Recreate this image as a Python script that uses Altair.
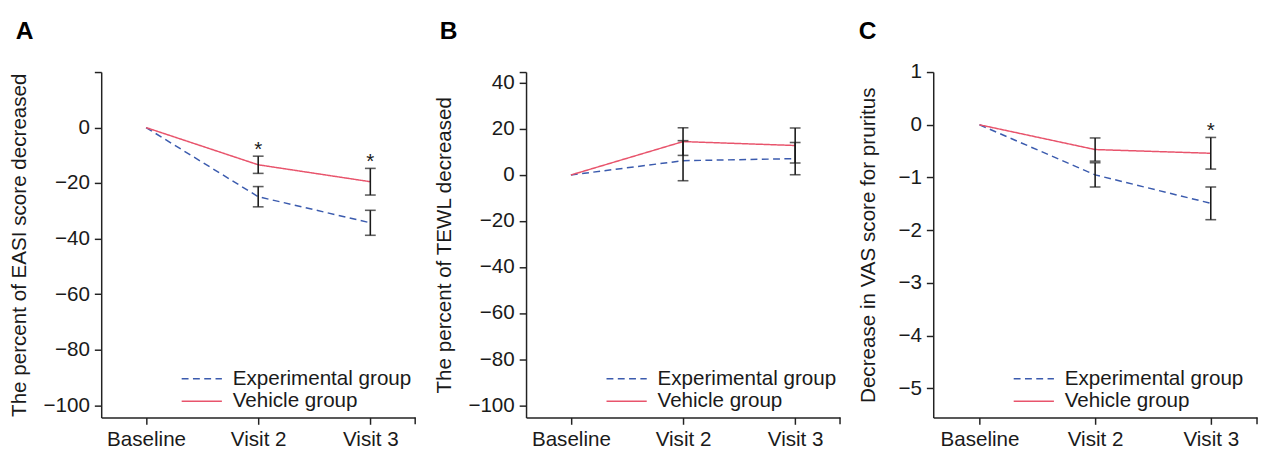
import altair as alt
import pandas as pd

FONT = "Liberation Sans"
BLUE = "#3B5BAE"
RED = "#E8546C"
INK = "#1a1a1a"

visits = ["Baseline", "Visit 2", "Visit 3"]
groups = ["Experimental group", "Vehicle group"]

# Panel A: EASI
easi_exp = [0, -24.9, -34.3]
easi_exp_se = [0, 3.65, 4.5]
easi_veh = [0, -13.4, -19.5]
easi_veh_se = [0, 3.1, 4.8]
easi_star = [False, True, True]

# Panel B: TEWL
tewl_exp = [0, 6.2, 7.1]
tewl_exp_se = [0, 8.7, 7.0]
tewl_veh = [0, 14.5, 12.8]
tewl_veh_se = [0, 6.0, 7.6]
tewl_star = [False, False, False]

# Panel C: VAS
vas_exp = [0, -0.95, -1.49]
vas_exp_se = [0, 0.23, 0.31]
vas_veh = [0, -0.47, -0.54]
vas_veh_se = [0, 0.22, 0.30]
vas_star = [False, False, True]


def panel(exp, exp_se, veh, veh_se, star, domain, ticks, label_max, title,
          letter, width, letter_x, title_pad):
    rows = []
    for g, vals, ses in [(groups[0], exp, exp_se), (groups[1], veh, veh_se)]:
        for v, m, s, st in zip(visits, vals, ses, star):
            rows.append(dict(visit=v, group=g, mean=m, lo=m - s, hi=m + s,
                             star=bool(st) and g == groups[1]))
    df = pd.DataFrame(rows)
    err_df = df[df["visit"] != "Baseline"]
    star_df = df[df["star"]]

    xenc = alt.X("visit:N", sort=visits,
                 scale=alt.Scale(type="point", padding=0.4, domain=visits),
                 axis=alt.Axis(title=None, labelAngle=0, labelPadding=5))
    yscale = alt.Scale(domain=domain, nice=False, zero=False)
    yaxis = alt.Axis(title=title, values=ticks, grid=False, titlePadding=title_pad,
                     labelExpr=f"datum.value > {label_max} ? '' : datum.label")

    legend = alt.Legend(title=None, orient="none", legendX=92, legendY=302,
                        symbolType="M-4,0H4", symbolSize=105,
                        symbolStrokeWidth=1.5, labelFontSize=21,
                        labelFont=FONT, labelColor=INK, labelOffset=21,
                        labelLimit=400, rowPadding=1, padding=0)

    lines = alt.Chart(df).mark_line(strokeWidth=1.5).encode(
        x=xenc,
        y=alt.Y("mean:Q", scale=yscale, axis=yaxis, title=title),
        color=alt.Color("group:N", scale=alt.Scale(domain=groups, range=[BLUE, RED]),
                        legend=legend),
        strokeDash=alt.StrokeDash("group:N",
                                  scale=alt.Scale(domain=groups, range=[[7, 4.5], [1, 0]]),
                                  legend=legend),
    )
    bars = alt.Chart(err_df).mark_rule(color=INK, strokeWidth=1.6).encode(
        x=xenc, y=alt.Y("lo:Q", scale=yscale, title=title), y2="hi:Q")
    cap_lo = alt.Chart(err_df).mark_tick(color=INK, size=11, thickness=1.6).encode(
        x=xenc, y=alt.Y("lo:Q", scale=yscale, title=title))
    cap_hi = alt.Chart(err_df).mark_tick(color=INK, size=11, thickness=1.6).encode(
        x=xenc, y=alt.Y("hi:Q", scale=yscale, title=title))
    layers = [lines, bars, cap_lo, cap_hi]
    if len(star_df):
        stars = alt.Chart(star_df).mark_text(
            text="*", fontSize=21, font=FONT, color=INK,
            baseline="alphabetic", dy=0).encode(
            x=xenc, y=alt.Y("hi:Q", scale=yscale, title=title))
        layers.append(stars)
    lab = alt.Chart(pd.DataFrame({"t": [letter]})).mark_text(
        fontSize=25, fontWeight="bold", font=FONT, color="#000",
        align="left", baseline="alphabetic").encode(
        text="t:N", x=alt.value(letter_x), y=alt.value(-34))
    endtick = alt.Chart(pd.DataFrame({"t": [0]})).mark_rule(
        color="#222", strokeWidth=1.5).encode(
        x=alt.value(width), y=alt.value(352), y2=alt.value(359))
    layers += [lab, endtick]
    return alt.layer(*layers).properties(width=width, height=352).resolve_scale(
        color="independent", strokeDash="independent")


pA = panel(easi_exp, easi_exp_se, easi_veh, easi_veh_se, easi_star,
           [-104.4, 20], [-100, -80, -60, -40, -20, 0, 20], 19,
           "The percent of EASI score decreased", "A", 320, -87, 14)
pB = panel(tewl_exp, tewl_exp_se, tewl_veh, tewl_veh_se, tewl_star,
           [-105.3, 44.7], [-100, -80, -60, -40, -20, 0, 20, 40, 44.7], 41,
           "The percent of TEWL decreased", "B", 320, -88, 14)
pC = panel(vas_exp, vas_exp_se, vas_veh, vas_veh_se, vas_star,
           [-5.55, 1], [-5, -4, -3, -2, -1, 0, 1], 2,
           "Decrease in VAS score for pruritus", "C", 330, -76, 20)

chart = alt.hconcat(pA, pB, pC, spacing=17).resolve_scale(
    color="independent", strokeDash="independent", y="independent"
).resolve_legend(color="independent", strokeDash="independent").properties(
    padding={"left": 0, "top": 7, "right": 0, "bottom": 0},
    background="white"
).configure_axis(
    labelFont=FONT, titleFont=FONT, labelFontSize=21, titleFontSize=21,
    labelColor=INK, titleColor=INK, titleFontWeight="normal",
    domainColor="#222", tickColor="#222", domainWidth=1.5, tickWidth=1.5,
    tickSize=7, labelPadding=5, titlePadding=14, grid=False
).configure_view(stroke=None)

chart.save("out.html", embed_options={"renderer": "svg", "actions": False})
